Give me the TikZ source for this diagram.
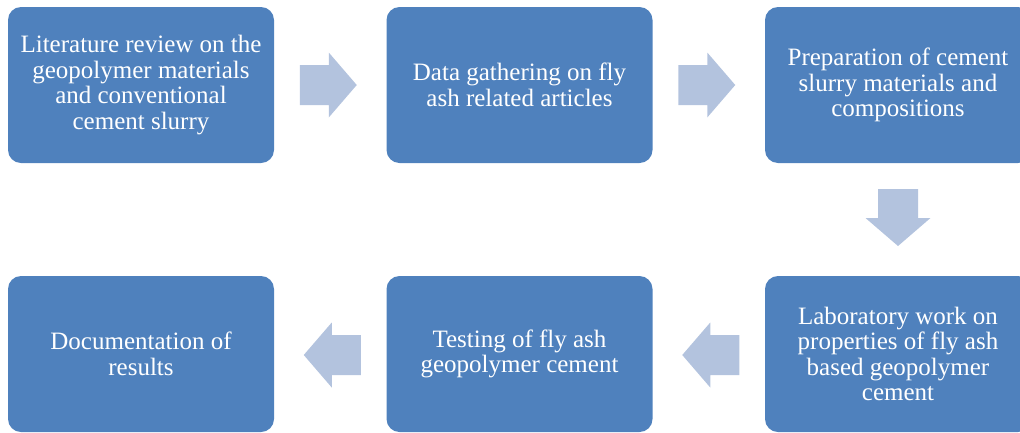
\documentclass[tikz,border=0pt]{standalone}
\usepackage{fontspec}
\setmainfont{Liberation Serif}
\usetikzlibrary{calc}
\definecolor{boxblue}{HTML}{4F81BD}
\definecolor{arrowblue}{HTML}{B3C3DE}
\tikzset{
  stepbox/.style={rectangle, rounded corners=13pt, fill=boxblue, text=white,
    minimum width=266pt, minimum height=156pt, inner sep=0pt, align=center,
    font=\fontsize{25}{25.6}\selectfont},
  flowarrow/.pic={
    \fill[arrowblue] (-30.5,-20) -- (-1.5,-20) -- (-1.5,-32.5) -- (26.5,0)
      -- (-1.5,32.5) -- (-1.5,20) -- (-30.5,20) -- cycle;
  }
}
\begin{document}
\begin{tikzpicture}[x=1pt, y=-1pt]
  \useasboundingbox (0,0) rectangle (1020,432);
  \clip (0,0) rectangle (1020,432);

  % process steps, top row left to right, bottom row right to left
  \node[stepbox] (b1) at (141,85)   {Literature review on the\\geopolymer materials\\and conventional\\cement slurry};
  \node[stepbox] (b2) at (519.5,85) {Data gathering on fly\\ash related articles};
  \node[stepbox] (b3) at (898,85)   {Preparation of cement\\slurry materials and\\compositions};
  \node[stepbox] (b4) at (898,354)  {Laboratory work on\\properties of fly ash\\based geopolymer\\cement};
  \node[stepbox] (b5) at (519.5,354){Testing of fly ash\\geopolymer cement};
  \node[stepbox] (b6) at (141,354)  {Documentation of\\results};

  % block arrows between consecutive steps
  \coordinate (m12) at ($(b1.east)!0.5!(b2.west)$);
  \coordinate (m23) at ($(b2.east)!0.5!(b3.west)$);
  \coordinate (m34) at ($(b3.south)!0.5!(b4.north)$);
  \coordinate (m45) at ($(b5.east)!0.5!(b4.west)$);
  \coordinate (m56) at ($(b6.east)!0.5!(b5.west)$);

  \pic at (m12) {flowarrow};
  \pic at (m23) {flowarrow};
  \pic[rotate=-90] at (m34) {flowarrow};
  \pic[xscale=-1] at ([yshift=-1pt]m45) {flowarrow};
  \pic[xscale=-1] at ([yshift=-1pt]m56) {flowarrow};
\end{tikzpicture}
\end{document}
